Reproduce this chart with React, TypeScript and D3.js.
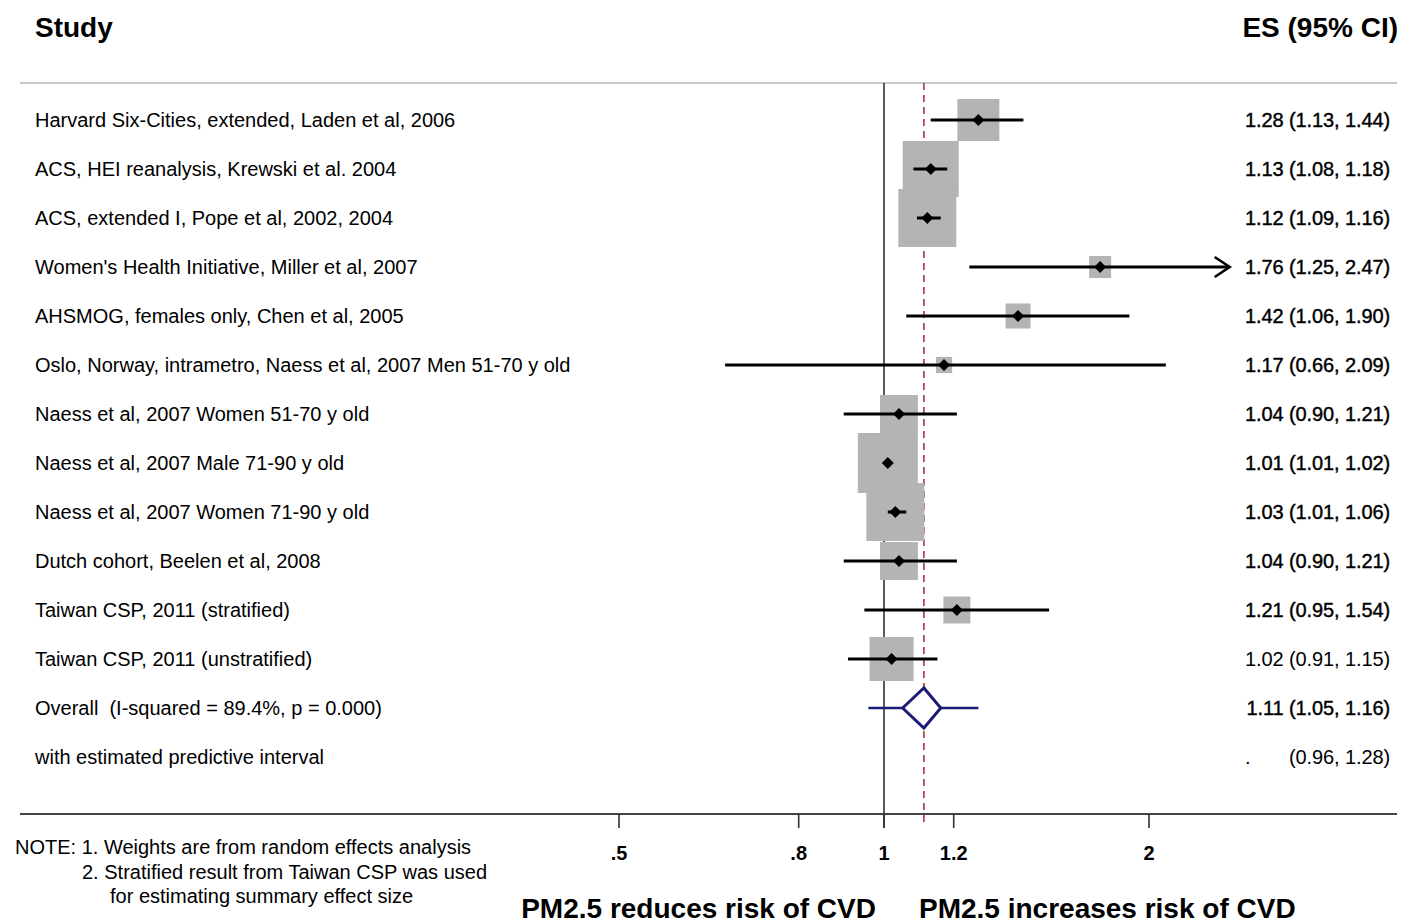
import React from "react";
import * as d3 from "d3";

const studies = [
  "Harvard Six-Cities, extended, Laden et al, 2006",
  "ACS, HEI reanalysis, Krewski et al. 2004",
  "ACS, extended I, Pope et al, 2002, 2004",
  "Women's Health Initiative, Miller et al, 2007",
  "AHSMOG, females only, Chen et al, 2005",
  "Oslo, Norway, intrametro, Naess et al, 2007 Men 51-70 y old",
  "Naess et al, 2007 Women 51-70 y old",
  "Naess et al, 2007 Male 71-90 y old",
  "Naess et al, 2007 Women 71-90 y old",
  "Dutch cohort, Beelen et al, 2008",
  "Taiwan CSP, 2011 (stratified)",
  "Taiwan CSP, 2011 (unstratified)",
];
const es = [1.28, 1.13, 1.12, 1.76, 1.42, 1.17, 1.04, 1.01, 1.03, 1.04, 1.21, 1.02];
const lo = [1.13, 1.08, 1.09, 1.25, 1.06, 0.66, 0.9, 1.01, 1.01, 0.9, 0.95, 0.91];
const hi = [1.44, 1.18, 1.16, 2.47, 1.9, 2.09, 1.21, 1.02, 1.06, 1.21, 1.54, 1.15];
const weights = [8.7, 15.5, 16.6, 2.4, 3.1, 1.3, 7.1, 17.8, 16.6, 7.1, 3.6, 9.6];
const esLabels = [
  "1.28 (1.13, 1.44)",
  "1.13 (1.08, 1.18)",
  "1.12 (1.09, 1.16)",
  "1.76 (1.25, 2.47)",
  "1.42 (1.06, 1.90)",
  "1.17 (0.66, 2.09)",
  "1.04 (0.90, 1.21)",
  "1.01 (1.01, 1.02)",
  "1.03 (1.01, 1.06)",
  "1.04 (0.90, 1.21)",
  "1.21 (0.95, 1.54)",
  "1.02 (0.91, 1.15)",
];
const arrowRows = [3];
const overall = { es: 1.11, lo: 1.05, hi: 1.16, label: "Overall  (I-squared = 89.4%, p = 0.000)", esLabel: "1.11 (1.05, 1.16)" };
const predictive = { lo: 0.96, hi: 1.28, label: "with estimated predictive interval", esLabel: "(0.96, 1.28)" };
const ticks = [0.5, 0.8, 1, 1.2, 2];
const tickLabels = [".5", ".8", "1", "1.2", "2"];

const W = 1402;
const H = 924;
const FONT = "'Liberation Sans', Arial, sans-serif";

export default function App() {
  const x = d3.scaleLog().domain([0.5, 2]).range([619, 1149]);
  const rows = d3.range(studies.length + 2);
  const y = d3.scalePoint<number>().domain(rows).range([120, 757]);
  const size = d3.scaleSqrt().domain([0, d3.max(weights) as number]).range([0, 60]);
  const top = 83;
  const axisY = 814;
  const oy = y(studies.length) as number;
  const py = y(studies.length + 1) as number;
  const diamond = [
    [x(overall.lo), oy],
    [x(overall.es), oy - 20],
    [x(overall.hi), oy],
    [x(overall.es), oy + 20],
  ];
  const navy = "#1c1c78";

  return (
    <svg width={W} height={H} style={{ position: "absolute", left: 0, top: 0, background: "#fff" }} fontFamily={FONT}>
      <rect width={W} height={H} fill="#fff" />
      {/* headers */}
      <text x={35} y={37} fontSize={28} fontWeight="bold">Study</text>
      <text x={1398} y={37} fontSize={28} fontWeight="bold" textAnchor="end">ES (95% CI)</text>
      <line x1={20} x2={1397} y1={top} y2={top} stroke="#c8c8c8" strokeWidth={2} />

      {/* reference lines */}
      <line x1={x(1)} x2={x(1)} y1={top} y2={axisY + 14} stroke="#333" strokeWidth={1.6} />
      <line x1={x(overall.es)} x2={x(overall.es)} y1={top} y2={axisY + 10} stroke="#a33a44" strokeWidth={1.6} strokeDasharray="7,5" />

      {/* boxes */}
      {studies.map((s, i) => {
        const sz = size(weights[i]);
        const cx = x(es[i]);
        const cy = y(i) as number;
        return <rect key={"b" + i} x={cx - sz / 2} y={cy - sz / 2} width={sz} height={sz} fill="#b4b4b4" />;
      })}
      {/* CIs and points */}
      {studies.map((s, i) => {
        const cy = y(i) as number;
        const x1 = x(lo[i]);
        const x2 = x(hi[i]);
        const cx = x(es[i]);
        const arrow = arrowRows.includes(i);
        return (
          <g key={"c" + i}>
            <line x1={x1} x2={x2} y1={cy} y2={cy} stroke="#000" strokeWidth={3} />
            {arrow && (
              <path d={`M${x2 - 15},${cy - 10}L${x2},${cy}L${x2 - 15},${cy + 10}`} fill="none" stroke="#000" strokeWidth={2.6} />
            )}
            <path d={`M${cx - 6},${cy}L${cx},${cy - 6}L${cx + 6},${cy}L${cx},${cy + 6}Z`} fill="#000" />
          </g>
        );
      })}

      {/* overall */}
      <line x1={x(predictive.lo)} x2={x(predictive.hi)} y1={oy} y2={oy} stroke={navy} strokeWidth={2.6} />
      <polygon points={diamond.map((d) => d.join(",")).join(" ")} fill="#fff" stroke={navy} strokeWidth={3} />

      {/* labels */}
      {studies.map((s, i) => (
        <text key={"l" + i} x={35} y={(y(i) as number) + 7} fontSize={20} fill="#000">{s}</text>
      ))}
      <text x={35} y={oy + 7} fontSize={20} style={{ whiteSpace: "pre" }}>{overall.label}</text>
      <text x={35} y={py + 7} fontSize={20}>{predictive.label}</text>

      {esLabels.map((s, i) => (
        <text key={"e" + i} x={1390} y={(y(i) as number) + 7} fontSize={20} textAnchor="end" stroke={i === 11 ? "none" : "#000"} strokeWidth={0.4} letterSpacing={-0.1}>{s}</text>
      ))}
      <text x={1390} y={oy + 7} fontSize={20} textAnchor="end" stroke="#000" strokeWidth={0.4} letterSpacing={-0.1}>{overall.esLabel}</text>
      <text x={1245} y={py + 7} fontSize={20}>.</text>
      <text x={1390} y={py + 7} fontSize={20} textAnchor="end" letterSpacing={-0.1}>{predictive.esLabel}</text>

      {/* axis */}
      <line x1={20} x2={1397} y1={axisY} y2={axisY} stroke="#444" strokeWidth={2} />
      {ticks.map((t, i) => (
        <g key={"t" + i}>
          <line x1={x(t)} x2={x(t)} y1={axisY} y2={axisY + 14} stroke="#333" strokeWidth={1.6} />
          <text x={x(t)} y={860} fontSize={20} fontWeight="bold" textAnchor="middle">{tickLabels[i]}</text>
        </g>
      ))}
      <text x={876} y={918} fontSize={28} fontWeight="bold" textAnchor="end">PM2.5 reduces risk of CVD</text>
      <text x={919} y={918} fontSize={28} fontWeight="bold">PM2.5 increases risk of CVD</text>

      {/* note */}
      <text x={15} y={854} fontSize={20}>NOTE: 1. Weights are from random effects analysis</text>
      <text x={82} y={879} fontSize={20}>2. Stratified result from Taiwan CSP was used</text>
      <text x={110} y={903} fontSize={20}>for estimating summary effect size</text>
    </svg>
  );
}
